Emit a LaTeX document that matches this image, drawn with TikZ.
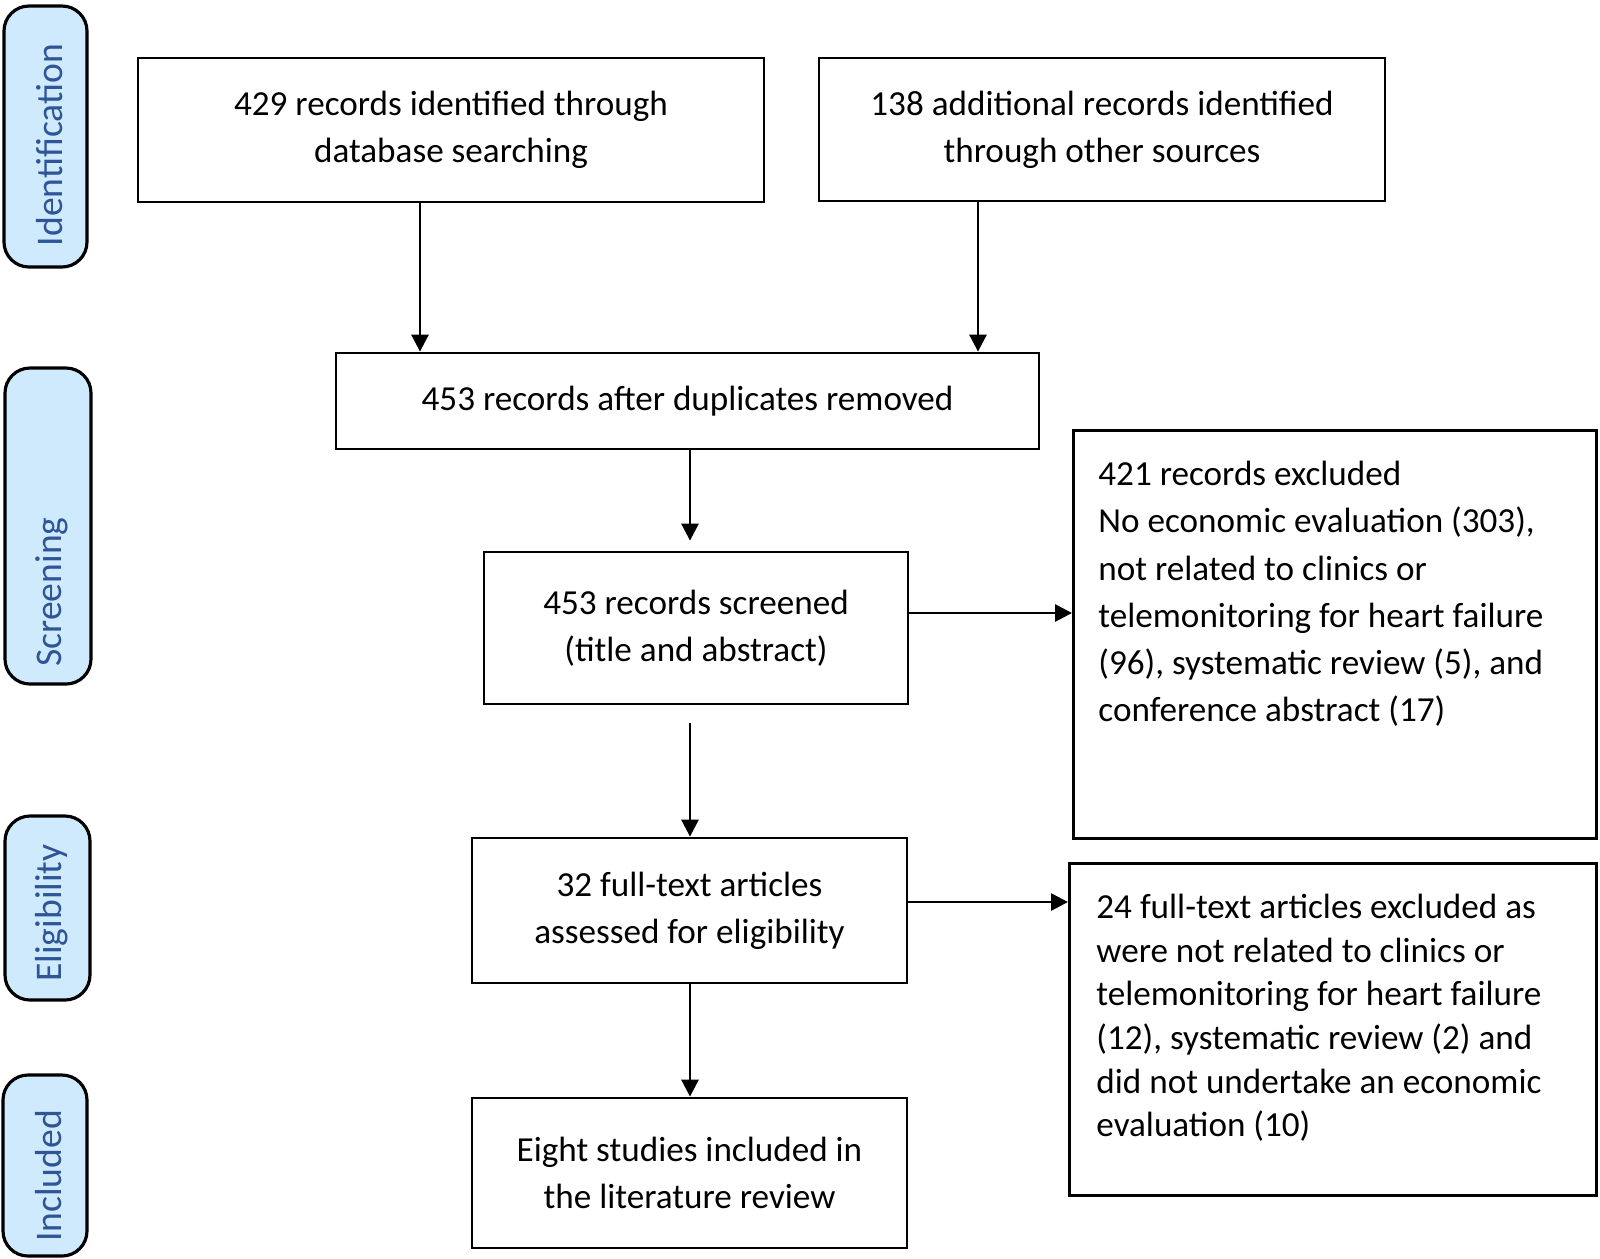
\documentclass[tikz,border=0pt]{standalone}
\usepackage{fontspec}
\setmainfont{Carlito}
\usetikzlibrary{arrows.meta}

\definecolor{stagefill}{RGB}{206,234,252}
\definecolor{stagetext}{RGB}{47,85,151}

\begin{document}
\begin{tikzpicture}[x=1mm, y=-1mm, line join=miter]

    \tikzset{%
      flowbox/.style    = {draw=black, line width=0.8pt, align=center, inner sep=0pt,
                           font=\fontsize{10}{13.4}\selectfont},
      exclbox/.style    = {draw=black, line width=0.8pt, anchor=north west, inner sep=0pt},
      stagebox/.style   = {draw=black, line width=0.9pt, fill=stagefill, rounded corners=2.5mm},
      stagelabel/.style = {rotate=90, text=stagetext, inner sep=0pt,
                           font=\fontsize{10.7}{12}\selectfont},
      flow/.style       = {line width=0.8pt, -{Triangle[length=1.7mm, width=1.7mm]}}
    }

    \useasboundingbox (0,0) rectangle (160,125.8);

    % stage labels down the left side
    \foreach \name/\cx/\cy/\w/\h/\ty/\txt in {%
        ident/4.55/13.65/8.3/26.1/14.5/Identification,
        screen/4.8/52.6/8.6/31.6/59.2/Screening,
        elig/4.75/90.8/8.5/18.4/91.3/Eligibility,
        incl/4.5/116.55/8.4/18.1/117.6/Included%
    }{
      \node[stagebox, minimum width=\w mm, minimum height=\h mm] (\name) at (\cx,\cy) {};
      \node[stagelabel] (\name-label) at (\cx+0.4,\ty) {\txt};
    }

    % main column
    \node[flowbox, minimum width=62.6mm, minimum height=14.4mm] (database) at (45.1,13.0)
      {429 records identified through\\database searching};
    \node[flowbox, minimum width=56.6mm, minimum height=14.3mm] (other) at (110.2,12.95)
      {138 additional records identified\\through other sources};
    \node[flowbox, minimum width=70.3mm, minimum height=9.6mm] (dedup) at (68.75,40.1)
      {453 records after duplicates removed};
    \node[flowbox, minimum width=42.4mm, minimum height=15.2mm] (screened) at (69.6,62.8)
      {453 records screened\\(title and abstract)};
    \node[flowbox, minimum width=43.5mm, minimum height=14.5mm] (fulltext) at (68.95,91.05)
      {32 full-text articles\\assessed for eligibility};
    \node[flowbox, minimum width=43.5mm, minimum height=15mm] (included) at (68.95,117.3)
      {Eight studies included in\\the literature review};

    % exclusion boxes, text set from the top left
    \node[exclbox, inner xsep=2.5mm, inner ysep=3.1mm] (excluded) at (107.2,42.9)
      {\parbox[t][34.6mm][t]{47.3mm}{\fontsize{10}{13.4}\selectfont\raggedright
        421 records excluded\\
        No economic evaluation (303),\\
        not related to clinics or\\
        telemonitoring for heart failure\\
        (96), systematic review (5), and\\
        conference abstract (17)}};
    \node[exclbox, inner xsep=2.7mm, inner ysep=3.1mm] (excludedft) at (106.8,86.2)
      {\parbox[t][27mm][t]{47.3mm}{\fontsize{10}{12.4}\selectfont\raggedright
        24 full-text articles excluded as\\
        were not related to clinics or\\
        telemonitoring for heart failure\\
        (12), systematic review (2) and\\
        did not undertake an economic\\
        evaluation (10)}};

    % where the connectors run
    \coordinate (leftdrop)  at (42.0,0);
    \coordinate (rightdrop) at (97.8,0);
    \coordinate (middrop)   at (69.0,0);
    \coordinate (exclrow)   at (0,61.3);
    \coordinate (ftrow)     at (0,90.2);

    \draw[flow] (database.south -| leftdrop)  -- (dedup.north -| leftdrop);
    \draw[flow] (other.south -| rightdrop)    -- (dedup.north -| rightdrop);
    \draw[flow, shorten >=1mm]  (dedup.south -| middrop)    -- (screened.north -| middrop);
    \draw[flow, shorten <=1.8mm] (screened.south -| middrop) -- (fulltext.north -| middrop);
    \draw[flow] (fulltext.south -| middrop)   -- (included.north -| middrop);
    \draw[flow] (screened.east |- exclrow)    -- (excluded.west |- exclrow);
    \draw[flow] (fulltext.east |- ftrow)      -- (excludedft.west |- ftrow);

\end{tikzpicture}
\end{document}
